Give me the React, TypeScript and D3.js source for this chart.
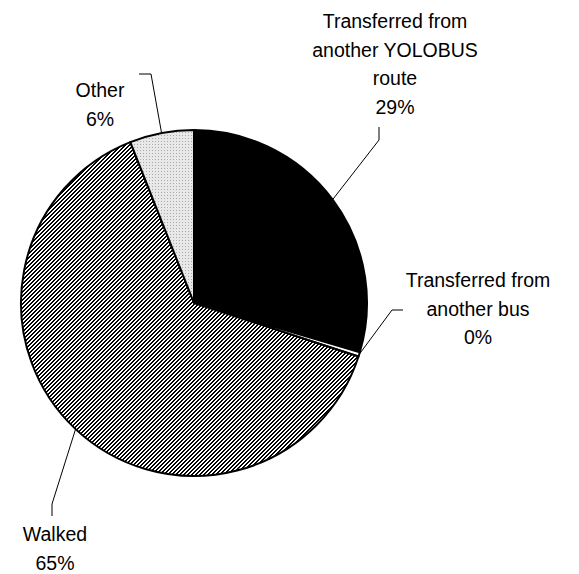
import React, { useEffect, useRef } from "react";
import * as d3 from "d3";

const categories = ["Transferred from another YOLOBUS route", "Transferred from another bus", "Walked", "Other"];
const values = [29.6, 0.4, 64.0, 6.0];
const pctLabels = ["29%", "0%", "65%", "6%"];
const labelLines = [
  ["Transferred from", "another YOLOBUS", "route"],
  ["Transferred from", "another bus"],
  ["Walked"],
  ["Other"],
];

const W = 579, H = 574;
const CX = 194, CY = 303, R = 173;
const fills = ["#000000", "#ffffff", "url(#walkPat)", "url(#otherPat)"];
// label layout: center x, first baseline y, elbow point, end point
const labelLayout = [
  { x: 395, y: 28, elbow: [379, 140], end: [379, 127] },
  { x: 478, y: 287, elbow: [392, 310], end: [403, 310] },
  { x: 55, y: 541, elbow: [52, 504], end: [52, 516] },
  { x: 100, y: 97, elbow: [151, 74], end: [139, 74] },
];

export default function App() {
  const ref = useRef<SVGSVGElement>(null);
  useEffect(() => {
    const svg = d3.select(ref.current);
    svg.selectAll("*").remove();
    const defs = svg.append("defs");
    const wp = defs.append("pattern").attr("id", "walkPat").attr("patternUnits", "userSpaceOnUse")
      .attr("width", 4).attr("height", 4);
    wp.append("rect").attr("width", 4).attr("height", 4).attr("fill", "#fff");
    for (let x = 0; x < 4; x++) for (let y = 0; y < 4; y++) {
      if ((x + y) % 4 < 2) wp.append("rect").attr("x", x).attr("y", y).attr("width", 1).attr("height", 1).attr("fill", "#000");
    }
    const op = defs.append("pattern").attr("id", "otherPat").attr("patternUnits", "userSpaceOnUse")
      .attr("width", 3).attr("height", 3);
    op.append("rect").attr("width", 3).attr("height", 3).attr("fill", "#e8e8e8");
    op.append("rect").attr("x", 0).attr("y", 0).attr("width", 1).attr("height", 1).attr("fill", "#a8a8a8");

    const pie = d3.pie<number>().sort(null).value((d) => d)(values);
    const arc = d3.arc<d3.PieArcDatum<number>>().innerRadius(0).outerRadius(R);
    const g = svg.append("g").attr("transform", `translate(${CX},${CY})`);
    g.selectAll("path").data(pie).join("path")
      .attr("d", arc)
      .attr("fill", (_d, i) => fills[i])
      .attr("stroke", "#000")
      .attr("stroke-width", 2)
      .attr("stroke-linejoin", "round");

    const font = "'Liberation Sans', Arial, sans-serif";
    pie.forEach((p, i) => {
      const a = (p.startAngle + p.endAngle) / 2;
      const sx = CX + R * Math.sin(a), sy = CY - R * Math.cos(a);
      const L = labelLayout[i];
      svg.append("polyline")
        .attr("points", `${sx},${sy} ${L.elbow[0]},${L.elbow[1]} ${L.end[0]},${L.end[1]}`)
        .attr("fill", "none").attr("stroke", "#000").attr("stroke-width", 1);
      const lines = [...labelLines[i], pctLabels[i]];
      const t = svg.append("text").attr("text-anchor", "middle").attr("font-family", font)
        .attr("font-size", 19.5).attr("fill", "#000");
      lines.forEach((ln, j) => {
        t.append("tspan").attr("x", L.x).attr("y", L.y + j * 28.5).text(ln);
      });
    });
  }, []);
  return (
    <svg ref={ref} width={W} height={H} style={{ position: "absolute", left: 0, top: 0, background: "#fff" }} />
  );
}
